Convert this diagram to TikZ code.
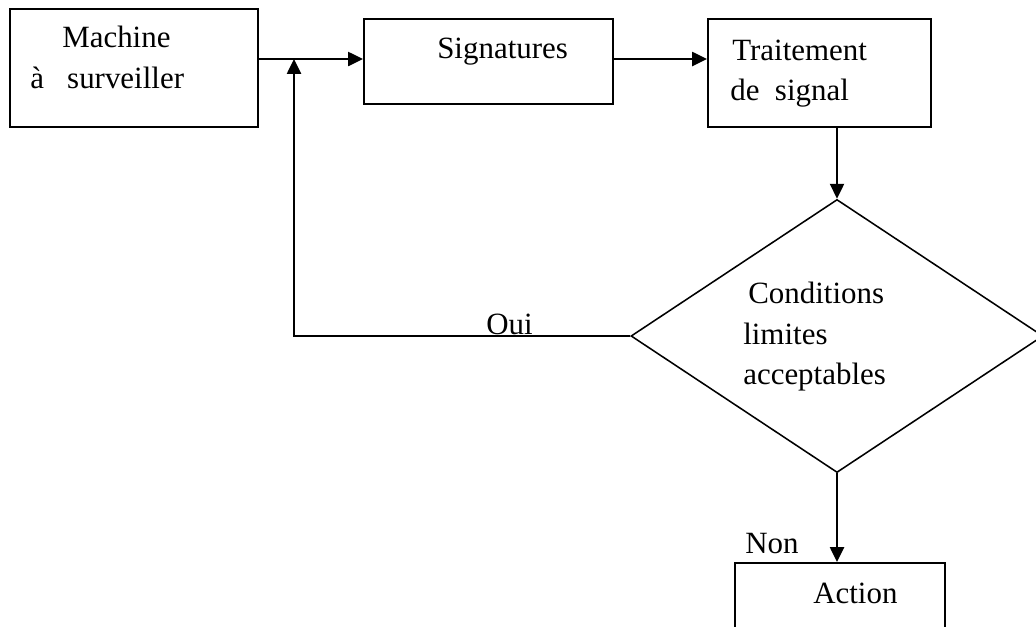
\documentclass[tikz,border=0pt]{standalone}
\usepackage{fontspec}
\setmainfont{Liberation Serif}
\usetikzlibrary{arrows.meta,
                shapes.geometric}

\tikzset{
    boite/.style={draw, rectangle, line width=1.4pt, inner sep=0pt},
    losange/.style={draw, diamond, line width=1.1pt, inner sep=0pt,
                    minimum width=10.3cm, minimum height=6.825cm},
    texte/.style={inner sep=0pt, anchor=base west, font=\fontsize{22}{28}\selectfont},
    fleche/.style={line width=1.4pt, -{Triangle[length=0.37cm, width=0.35cm]}}
}

\begin{document}
\begin{tikzpicture}[x=0.025cm, y=-0.025cm]
    % Fix the frame of the picture (one unit = one pixel)
    \useasboundingbox (0,0) rectangle (1036,626);
    \clip (0,0) rectangle (1036,626);

    % The boxes and the test
    \node[boite, minimum width=6.2cm, minimum height=2.95cm] (machine) at (134,68) {};
    \node[boite, minimum width=6.225cm, minimum height=2.125cm] (signat) at (488.5,61.5) {};
    \node[boite, minimum width=5.575cm, minimum height=2.7cm] (traitmt) at (819.5,73) {};
    \node[losange] (cond) at (837,336) {};
    \node[boite, minimum width=5.25cm, minimum height=2cm] (action) at (840,603) {};

    % Texts inside the boxes
    \node[texte] (tmach) at (62,47) {Machine};
    \node[texte] (tsurv) at (30,88) {à~~~surveiller};
    \node[texte] (tsign) at (437,58) {Signatures};
    \node[texte] (ttrait) at (732,60) {Traitement};
    \node[texte] (tsignal) at (730,100) {de~~signal};
    \node[texte] (tcond) at (748,303) {Conditions};
    \node[texte] (tlim) at (743,344) {limites};
    \node[texte] (tacc) at (743,384) {acceptables};
    \node[texte] (tact) at (813,603) {Action};

    % Junction where the loop comes back
    \coordinate (jn) at (294,59);

    % Connectors
    \draw[fleche] (machine.east |- jn) -- (signat.west |- jn);
    \draw[fleche] (signat.east |- jn) -- (traitmt.west |- jn);
    \draw[fleche] (cond.north |- traitmt.south) -- (cond.north);
    \draw[fleche] (cond.west) -| (jn);
    \draw[fleche] (cond.south) -- (cond.south |- action.north);

    % Answers of the test
    \node[texte] (oui) at (486,334) {Oui};
    \node[texte] (non) at (745,553) {Non};
\end{tikzpicture}
\end{document}
